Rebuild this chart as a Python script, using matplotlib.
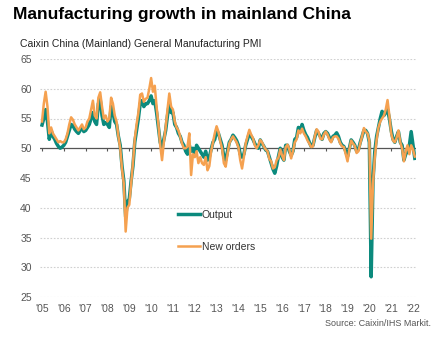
import numpy as np
import matplotlib.pyplot as plt

plt.rcParams['font.family'] = ['Liberation Sans', 'DejaVu Sans']

# monthly index values, Jan 2005 - Feb 2022
output = [
    53.9, 55.0, 56.5, 54.5, 51.5, 53.0, 52.0, 51.5, 50.8, 50.3, 50.0, 50.2,  # 2005
    50.5, 51.0, 52.0, 53.0, 54.0, 53.8, 53.2, 52.8, 52.5, 53.0, 53.5, 52.8,  # 2006
    53.0, 53.5, 54.0, 55.0, 56.0, 54.5, 54.0, 57.5, 58.2, 55.5, 54.0, 54.3,  # 2007
    54.0, 53.5, 57.0, 56.0, 54.5, 54.0, 52.0, 50.5, 47.0, 44.5, 38.5, 41.0,  # 2008
    41.5, 44.5, 47.0, 51.0, 53.0, 55.0, 57.5, 58.0, 57.0, 57.5, 57.5, 58.0,  # 2009
    58.8, 57.5, 58.0, 56.0, 53.5, 51.0, 50.0, 51.5, 53.0, 55.5, 57.5, 56.0,  # 2010
    56.0, 54.0, 53.5, 52.5, 52.0, 51.0, 50.5, 49.5, 49.0, 50.5, 49.5, 50.0,  # 2011
    49.0, 50.5, 50.0, 49.5, 49.0, 48.5, 49.5, 48.0, 48.5, 49.8, 51.0, 51.5,  # 2012
    53.0, 52.5, 51.5, 50.5, 48.5, 48.0, 49.5, 51.0, 51.5, 52.2, 51.8, 51.3,  # 2013
    50.5, 49.0, 48.5, 49.0, 50.5, 51.5, 52.5, 52.0, 51.5, 50.8, 50.3, 50.0,  # 2014
    51.4, 50.8, 50.3, 49.7, 49.5, 48.5, 47.5, 46.5, 45.8, 47.0, 48.6, 50.0,  # 2015
    48.5, 48.0, 50.5, 50.5, 49.5, 48.8, 49.5, 51.5, 51.8, 53.5, 52.8, 54.0,  # 2016
    53.0, 52.3, 51.8, 51.0, 50.3, 50.5, 51.8, 53.0, 52.5, 52.0, 51.5, 52.5,  # 2017
    52.8, 52.5, 51.8, 51.2, 52.0, 52.2, 52.6, 52.0, 51.0, 50.5, 50.3, 49.5,  # 2018
    48.6, 50.0, 51.4, 51.0, 50.5, 49.5, 49.8, 51.0, 52.0, 53.0, 53.0, 52.5,  # 2019
    51.0, 28.4, 44.5, 49.5, 52.0, 53.5, 55.0, 56.2, 55.5, 56.0, 56.5, 55.0,  # 2020
    53.0, 51.5, 51.0, 52.0, 52.8, 51.0, 50.5, 48.0, 49.0, 49.5, 50.5, 52.8,  # 2021
    50.5, 48.3,                                                              # 2022
]

new_orders = [
    54.5, 57.5, 59.5, 57.0, 52.5, 53.5, 52.5, 52.0, 51.5, 51.0, 51.2, 51.0,  # 2005
    51.0, 51.5, 52.5, 54.0, 55.2, 54.8, 54.0, 53.5, 53.0, 53.5, 54.0, 53.2,  # 2006
    53.5, 54.5, 55.0, 56.5, 58.0, 55.5, 55.0, 58.5, 59.4, 57.0, 55.0, 55.5,  # 2007
    54.5, 55.0, 58.5, 57.5, 55.5, 54.5, 52.0, 50.0, 46.5, 44.0, 36.0, 40.0,  # 2008
    40.5, 44.0, 47.5, 51.5, 54.0, 56.0, 59.0, 59.2, 57.8, 58.3, 58.5, 60.0,  # 2009
    61.8, 59.5, 60.5, 57.0, 54.0, 50.5, 48.0, 51.0, 53.5, 56.5, 59.2, 57.0,  # 2010
    56.5, 54.5, 53.5, 53.0, 52.0, 50.8, 50.0, 50.0, 50.3, 52.5, 45.5, 49.0,  # 2011
    48.5, 49.5, 47.5, 48.5, 47.5, 47.2, 48.5, 46.3, 47.0, 49.5, 51.0, 52.5,  # 2012
    53.7, 52.8, 51.2, 50.0, 47.5, 46.9, 49.0, 50.8, 51.5, 52.0, 51.5, 51.0,  # 2013
    50.2, 48.0, 46.6, 48.5, 50.8, 52.0, 53.1, 52.3, 51.7, 50.5, 50.0, 50.5,  # 2014
    51.4, 51.0, 50.3, 49.8, 49.5, 48.2, 47.8, 46.6, 46.8, 48.0, 48.4, 49.8,  # 2015
    48.8, 48.0, 50.2, 50.6, 49.8, 48.3, 49.5, 51.0, 51.5, 53.0, 52.5, 53.3,  # 2016
    52.5, 52.0, 51.3, 50.8, 50.2, 50.3, 52.0, 53.2, 52.8, 51.6, 51.5, 52.3,  # 2017
    52.8, 52.3, 51.5, 51.0, 51.8, 52.0, 52.0, 51.6, 50.8, 50.3, 50.2, 49.0,  # 2018
    47.8, 49.8, 51.3, 50.8, 50.4, 49.2, 49.5, 50.8, 52.0, 53.4, 52.8, 52.5,  # 2019
    51.2, 34.8, 44.0, 48.5, 51.5, 53.5, 54.5, 55.0, 55.5, 56.5, 58.1, 55.5,  # 2020
    52.5, 51.3, 51.0, 51.8, 53.0, 51.0, 50.0, 47.8, 49.5, 50.5, 49.0, 50.5,  # 2021
    49.8, 48.6,                                                              # 2022
]

years = list(range(2005, 2023))
year_labels = ["'%02d" % (y % 100) for y in years]
y_ticks = [25, 30, 35, 40, 45, 50, 55, 60, 65]

teal = "#0b8a7d"
orange = "#f5a150"
grey_text = "#555555"

dates = 2005 + np.arange(len(output)) / 12

fig = plt.figure(figsize=(4.38, 3.37), dpi=100)
ax = fig.add_axes([40 / 438, 1 - 297 / 337, 376 / 438, 238 / 337])

# gridlines, 50 line drawn solid as the axis
for v in y_ticks:
    if v == 50:
        continue
    ax.axhline(v, color="#d0d0d0", lw=0.8, ls=(0, (1.5, 1.5)), zorder=0)
ax.axhline(50, color="#555555", lw=0.9, zorder=1)
ax.vlines(years, 49.5, 50, color="#555555", lw=0.8, zorder=1)

ax.plot(dates, output, color=teal, lw=2.5, label="Output", zorder=2)
ax.plot(dates, new_orders, color=orange, lw=1.8, label="New orders", zorder=3)

ax.set_xlim(2005 - 2 / 21.82, 2022 + 3 / 21.82)
ax.set_ylim(25, 65)
ax.set_yticks(y_ticks)
ax.set_xticks(years)
ax.set_xticklabels(year_labels)
ax.tick_params(axis="both", length=0, labelsize=7.5, colors=grey_text)
ax.tick_params(axis="y", pad=6)
ax.tick_params(axis="x", pad=5)
for s in ax.spines.values():
    s.set_visible(False)

leg = ax.legend(loc="upper left", bbox_to_anchor=(0.367, 0.365), frameon=False,
                fontsize=7.5, handlelength=2.1, handletextpad=0.2,
                labelspacing=2.1, borderpad=0, borderaxespad=0)
for t in leg.get_texts():
    t.set_color("#333333")

fig.text(13 / 438, 1 - 14 / 337, "Manufacturing growth in mainland China",
         fontsize=12.5, fontweight="bold", va="center", ha="left")
fig.text(20 / 438, 1 - 44 / 337, "Caixin China (Mainland) General Manufacturing PMI",
         fontsize=7.5, va="center", ha="left", color="#222222")
fig.text(431 / 438, 1 - 324 / 337, "Source: Caixin/IHS Markit.",
         fontsize=6.5, va="center", ha="right", color=grey_text)

fig.savefig("out.png", dpi=100)
